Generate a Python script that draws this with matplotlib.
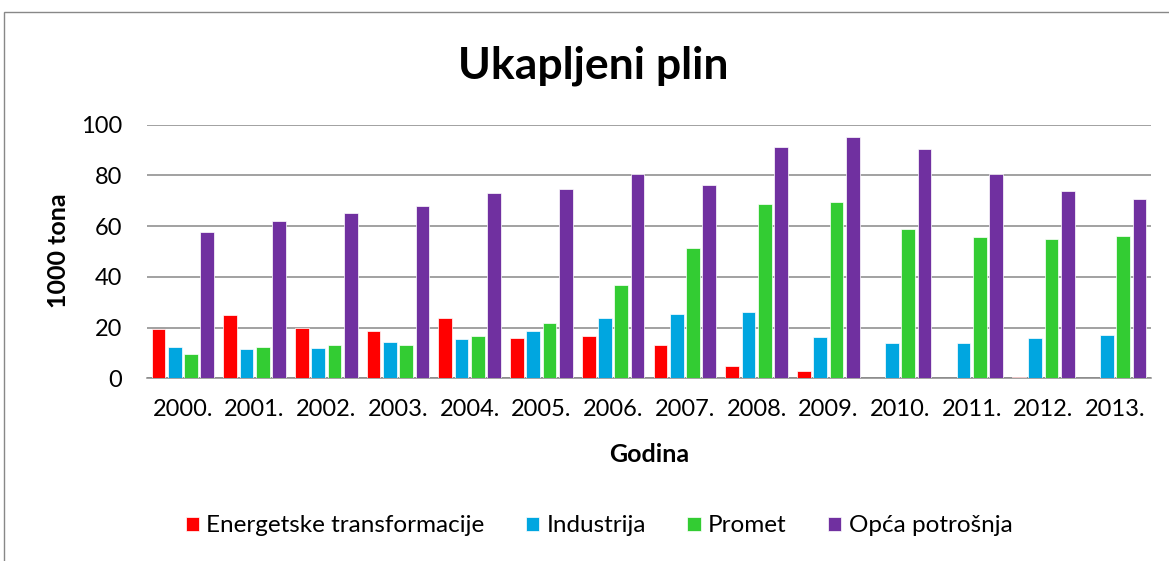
import matplotlib
matplotlib.use("Agg")
import matplotlib.pyplot as plt
import numpy as np
from matplotlib.patches import Rectangle

years = ["2000.", "2001.", "2002.", "2003.", "2004.", "2005.", "2006.",
         "2007.", "2008.", "2009.", "2010.", "2011.", "2012.", "2013."]
energetske = [19.3, 25.1, 19.7, 18.7, 23.7, 15.9, 16.7, 13.0, 4.9, 3.0, 0.0, 0.0, 0.5, 0.0]
industrija = [12.2, 11.6, 12.0, 14.5, 15.4, 18.6, 23.8, 25.4, 26.2, 16.2, 13.8, 13.8, 15.9, 17.1]
promet = [9.6, 12.5, 13.2, 13.2, 16.7, 22.0, 36.8, 51.3, 68.8, 69.6, 58.7, 55.9, 54.9, 56.3]
opca = [57.6, 62.1, 65.1, 68.0, 73.0, 74.7, 80.7, 76.2, 91.2, 95.1, 90.4, 80.7, 73.9, 70.8]

series = [
    ("Energetske transformacije", energetske, "#FF0000"),
    ("Industrija", industrija, "#00A6E0"),
    ("Promet", promet, "#33CC33"),
    ("Opća potrošnja", opca, "#7030A0"),
]

FONT = "Lato"
plt.rcParams["font.family"] = [FONT, "DejaVu Sans"]
FS = 17
FS_LAB = 18
FS_LEG = 17.5

fig = plt.figure(figsize=(11.69, 5.61), dpi=100)
fig.patches.append(Rectangle((3.5 / 1169, -0.1), 1.2, 1.1 - 12 / 561, transform=fig.transFigure,
                             fill=False, edgecolor="#888888", linewidth=1.0))

ax = fig.add_axes([147 / 1169, 1 - 378.3 / 561, (1151 - 147) / 1169, (378.3 - 124.7) / 561])
x = np.arange(len(years))
step = 0.227
width = 0.19
for i, (name, vals, col) in enumerate(series):
    ax.bar(x + (i - 1.5) * step, vals, width=width, color=col, label=name,
           edgecolor="white", linewidth=0.5, zorder=3)

ax.set_xlim(-0.5, len(years) - 0.5)
ax.set_ylim(0, 100)
ax.set_yticks([0, 20, 40, 60, 80, 100])
ax.yaxis.grid(True, color="#878787", linewidth=1.1, zorder=0)
ax.set_axisbelow(True)
for s in ["left", "right", "top"]:
    ax.spines[s].set_visible(False)
ax.spines["bottom"].set_color("#878787")
ax.spines["bottom"].set_linewidth(1.1)
ax.set_xticks(x)
ax.set_xticklabels(years)
ax.tick_params(axis="both", length=0, labelsize=FS)
ax.tick_params(axis="y", pad=18)
ax.tick_params(axis="x", pad=15)

fig.text(59 / 1169, 1 - 251 / 561, "1000 tona", fontsize=FS_LAB, fontweight="bold",
         rotation=90, ha="center", va="center")
fig.text(649 / 1169, 1 - 454 / 561, "Godina", fontsize=FS_LAB, fontweight="bold",
         ha="center", va="center")

fig.text(593 / 1169, 1 - 66 / 561, "Ukapljeni plin", fontsize=32, fontweight="bold",
         ha="center", va="center")

fig.legend(loc="center", bbox_to_anchor=(599 / 1169, 1 - 526 / 561), ncol=4,
           frameon=False, fontsize=FS_LEG, handlelength=0.55, handleheight=0.55,
           handletextpad=0.3, columnspacing=1.7)

fig.savefig("out.png", dpi=100)
